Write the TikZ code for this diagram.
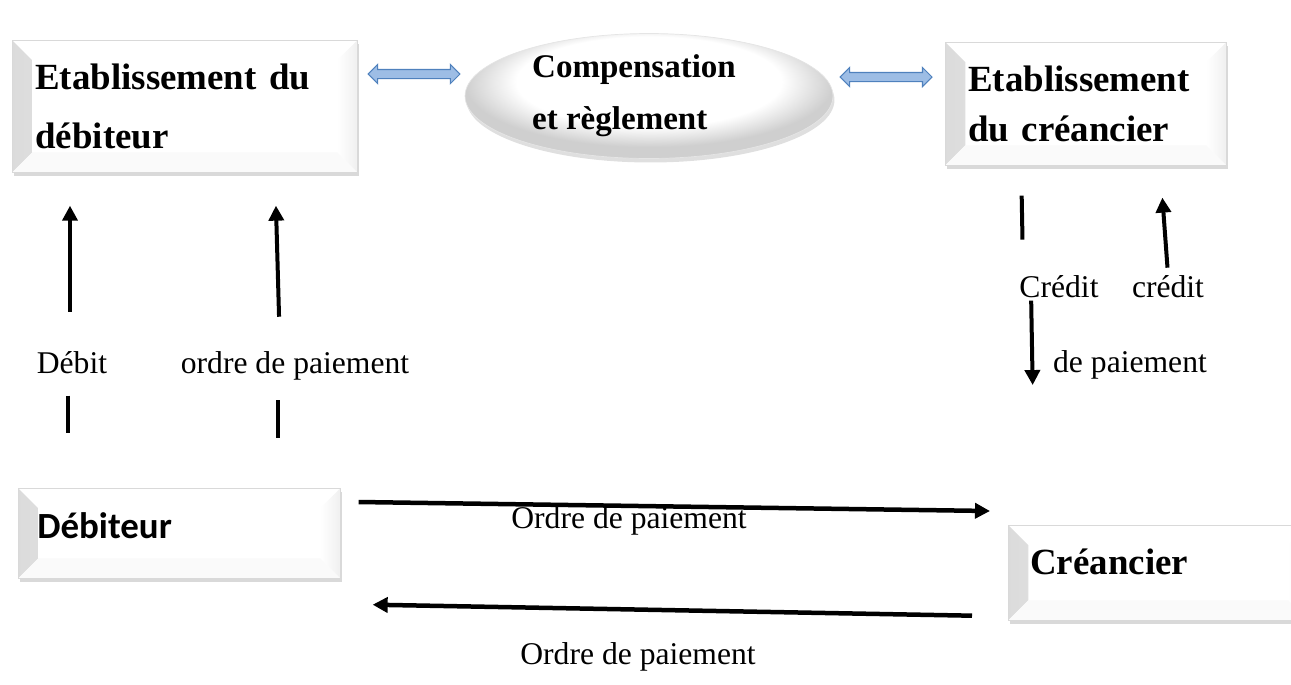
\documentclass[tikz,border=0pt]{standalone}
\usepackage{fontspec}
\setmainfont{Liberation Serif}
\newfontfamily\calibrifont{Carlito}
\usepackage{xcolor}
\usetikzlibrary{shapes.geometric,shapes.arrows,shadows,arrows.meta,calc}

\definecolor{arrowfill}{RGB}{157,189,229}
\definecolor{arrowedge}{RGB}{79,129,189}
\pgfdeclareradialshading{ovalshade}{\pgfpoint{0bp}{9bp}}{color(0bp)=(white); color(18bp)=(white); color(25bp)=(gray!38); color(50bp)=(gray!38)}

\tikzset{
  bevelbox/.style={rectangle, draw=gray!30, fill=white, anchor=north west, inner ysep=0pt, align=left,
    drop shadow={shadow xshift=0.03cm, shadow yshift=-0.08cm, opacity=0.3},
    path picture={
      \shade[left color=gray!28, right color=white] (path picture bounding box.north west) -- ($(path picture bounding box.north west)+(0.4cm,-0.4cm)$) -- ($(path picture bounding box.south west)+(0.4cm,0.4cm)$) -- (path picture bounding box.south west) -- cycle;
      \shade[left color=white, right color=gray!12] (path picture bounding box.north east) -- ($(path picture bounding box.north east)+(-0.4cm,-0.4cm)$) -- ($(path picture bounding box.south east)+(-0.4cm,0.4cm)$) -- (path picture bounding box.south east) -- cycle;
      \fill[gray!4] (path picture bounding box.south west) -- ($(path picture bounding box.south west)+(0.4cm,0.4cm)$) -- ($(path picture bounding box.south east)+(-0.4cm,0.4cm)$) -- (path picture bounding box.south east) -- cycle;
    }},
  ovalnode/.style={ellipse, draw=gray!20, shading=ovalshade, inner sep=0pt, align=left,
    drop shadow={shadow xshift=0.03cm, shadow yshift=-0.08cm, opacity=0.25}},
  dblarrow/.style={double arrow, draw=arrowedge, fill=arrowfill, line width=0.6pt, inner sep=0.08cm, double arrow head extend=0.1cm, minimum height=1.84cm},
  txt/.style={inner sep=0pt, anchor=base, font=\fontsize{18}{22}\selectfont},
  arr/.style={-{Triangle[length=0.3cm,width=0.3cm]}, line width=0.08cm},
  seg/.style={line width=0.08cm},
  bigarr/.style={-{Triangle[length=0.3cm,width=0.3cm]}, line width=0.09cm}
}

\begin{document}
\begin{tikzpicture}[x=0.02cm, y=-0.02cm]
\useasboundingbox (0,0) rectangle (1291,684);

\node (etabdeb) [bevelbox, minimum width=6.9cm, minimum height=2.64cm, inner xsep=0.46cm, text width=5.98cm, font=\bfseries\fontsize{21}{33.5}\selectfont] at (12,40) {Etablissement du\\débiteur};
\node (compens) [ovalnode, minimum width=7.36cm, minimum height=2.5cm, font=\bfseries\fontsize{18.8}{29.5}\selectfont] at (649,96) {Compensation\hspace*{0.6cm}\\et règlement};
\node (etabcre) [bevelbox, minimum width=5.62cm, minimum height=2.46cm, inner xsep=0.46cm, text width=4.7cm, font=\bfseries\fontsize{21}{28.3}\selectfont] at (945,42) {Etablissement\\du créancier};
\node (debiteur) [bevelbox, minimum width=6.44cm, minimum height=1.8cm, inner xsep=0.38cm, text width=5.68cm, text depth=0.3cm, font=\calibrifont\bfseries\fontsize{21}{25}\selectfont] at (18,488) {Débiteur};
\node (creancier) [bevelbox, minimum width=6cm, minimum height=1.9cm, inner xsep=0.44cm, text width=5.12cm, text depth=0.45cm, font=\bfseries\fontsize{21}{25}\selectfont] at (1008,525) {Créancier};

\node (dbl1) [dblarrow] at (414,74) {};
\node (dbl2) [dblarrow] at (886,77) {};

\node (debit) [txt] at (72,373) {Débit};
\node (ordre1) [txt] at (295,373) {ordre de paiement};
\node (credit1) [txt] at (1059,297) {Crédit};
\node (credit2) [txt] at (1168,297) {crédit};
\node (depaie) [txt] at (1130,372) {de paiement};
\node (ordre2) [txt] at (629,528) {Ordre de paiement};
\node (ordre3) [txt] at (638,664) {Ordre de paiement};

\draw[arr, shorten <=0.78cm, shorten >=0.66cm] ([xshift=-0.04cm]debit.north) -- ([xshift=-0.04cm]debit.north |- etabdeb.south);
\draw[seg, shorten <=0.44cm, shorten >=1.1cm] ([xshift=-0.08cm]debit.south) -- ([xshift=-0.08cm]debit.south |- debiteur.north);
\draw[arr, shorten <=0.68cm, shorten >=0.66cm] ([xshift=-0.3cm]ordre1.north) -- ([xshift=-0.4cm]ordre1.north |- etabdeb.south);
\draw[seg, shorten <=0.4cm, shorten >=1cm] ([xshift=-0.34cm]ordre1.south) -- ([xshift=-0.34cm]ordre1.south |- debiteur.north);

\draw[seg, shorten <=0.7cm, shorten >=0.6cm] ([xshift=0.08cm]credit1.north west) -- ([xshift=0.04cm]credit1.north west |- etabcre.south);
\draw[arr, shorten <=0.06cm, shorten >=2.8cm] ([xshift=0.24cm]credit1.south west) -- ([xshift=0.32cm]credit1.south west |- creancier.north);
\draw[arr, shorten <=0.14cm, shorten >=0.64cm] (credit2.north) -- ([xshift=-0.16cm]credit2.north |- etabcre.south);

\draw[bigarr] ($(debiteur.north east)+(18,14)$) -- ($(creancier.north west)+(-18,-14)$);
\draw[bigarr] ($(creancier.south west)+(-36,-5)$) -- ($(debiteur.south east)+(32,26)$);

\end{tikzpicture}
\end{document}
